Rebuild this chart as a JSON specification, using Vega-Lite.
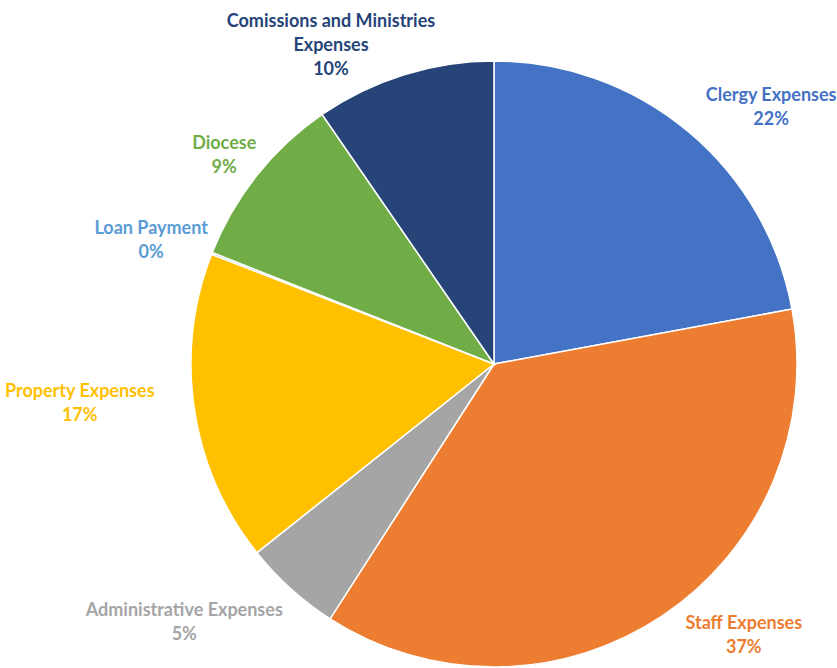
{
  "$schema": "https://vega.github.io/schema/vega-lite/v6.json",
  "width": 600,
  "height": 600,
  "autosize": {"type": "none"},
  "padding": {"left": 194, "top": 64, "right": 43, "bottom": 4},
  "background": "white",
  "view": {"stroke": null},
  "data": {
    "values": [
      {"idx": 1, "name": "Clergy Expenses", "value": 22.1},
      {"idx": 2, "name": "Staff Expenses", "value": 37.0},
      {"idx": 3, "name": "Administrative Expenses", "value": 5.2},
      {"idx": 4, "name": "Property Expenses", "value": 16.6},
      {"idx": 5, "name": "Loan Payment", "value": 0.1},
      {"idx": 6, "name": "Diocese", "value": 9.4},
      {"idx": 7, "name": "Comissions and Ministries\nExpenses", "value": 9.6}
    ]
  },
  "transform": [
    {"calculate": "datum.name + '\\n' + format(datum.value / 100, '.0%')", "as": "label"}
  ],
  "encoding": {
    "theta": {"field": "value", "type": "quantitative", "stack": true},
    "order": {"field": "idx", "type": "quantitative"},
    "color": {
      "field": "name",
      "type": "nominal",
      "legend": null,
      "scale": {
        "domain": ["Clergy Expenses", "Staff Expenses", "Administrative Expenses", "Property Expenses", "Loan Payment", "Diocese", "Comissions and Ministries\nExpenses"],
        "range": ["#4472C4", "#ED7D31", "#A5A5A5", "#FFC000", "#5B9BD5", "#70AD47", "#264478"]
      }
    }
  },
  "layer": [
    {
      "mark": {"type": "arc", "outerRadius": 303, "stroke": "white", "strokeWidth": 1.5}
    },
    {
      "mark": {
        "type": "text",
        "radius": 330,
        "font": "Lato",
        "fontSize": 18,
        "fontWeight": "bold",
        "lineBreak": "\n",
        "lineHeight": 24,
        "align": "center",
        "baseline": "middle",
        "dx": {"expr": "(datum.value_start + datum.value_end) / 2 < 50 ? 66 : ((datum.value_start + datum.value_end) / 2 > 93 ? -65 : ((datum.value_start + datum.value_end) / 2 > 68 && (datum.value_start + datum.value_end) / 2 < 78 ? -88 : 22 - length(datum.name) * 4.8))"},
        "dy": {"expr": "(datum.value_start + datum.value_end) / 2 > 93 ? -27 : ((datum.value_start + datum.value_end) / 2 > 55 && (datum.value_start + datum.value_end) / 2 < 68 ? 2 : ((datum.value_start + datum.value_end) / 2 > 68 && (datum.value_start + datum.value_end) / 2 < 78 ? -22 : -14))"}
      },
      "encoding": {
        "text": {"field": "label", "type": "nominal"}
      }
    }
  ]
}
